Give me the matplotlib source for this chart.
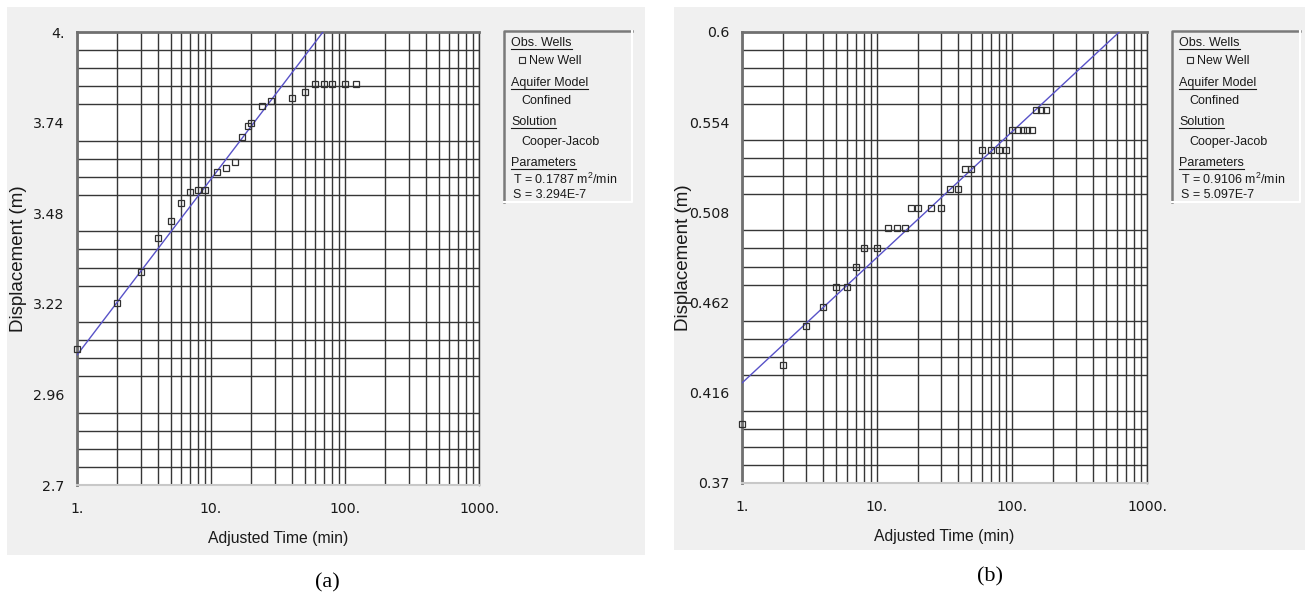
import matplotlib.pyplot as plt
from matplotlib.lines import Line2D
from matplotlib.patches import Rectangle
from matplotlib.ticker import FixedLocator, LogLocator, NullFormatter

plt.rcParams['font.family'] = ['Liberation Sans', 'DejaVu Sans']
plt.rcParams['mathtext.fontset'] = 'custom'
plt.rcParams['mathtext.rm'] = 'Liberation Sans'
plt.rcParams['mathtext.it'] = 'Liberation Sans'

# observed drawdown, panel (a)
time_a = [1, 2, 3, 4, 5, 6, 7, 8, 9, 11, 13, 15, 17, 19, 20, 24, 28,
          40, 50, 60, 70, 80, 100, 120]
disp_a = [3.089, 3.221, 3.312, 3.410, 3.458, 3.508, 3.540, 3.548, 3.548,
          3.599, 3.609, 3.628, 3.700, 3.730, 3.738, 3.788, 3.802,
          3.810, 3.829, 3.850, 3.850, 3.850, 3.850, 3.850]
fit_t_a = [1, 68.5]
fit_s_a = [3.073, 4.0]
yticks_a = [2.7, 2.96, 3.22, 3.48, 3.74, 4.0]
ylabels_a = ['2.7', '2.96', '3.22', '3.48', '3.74', '4.']
params_a = ['T = 0.1787 m$^2$/min', 'S = 3.294E-7']

# observed drawdown, panel (b)
time_b = [1, 2, 3, 4, 5, 6, 7, 8, 10, 12, 14, 16, 18, 20, 25, 30, 35, 40,
          45, 50, 60, 70, 80, 90, 100, 110, 120, 130, 140, 150, 165, 180]
disp_b = [0.40, 0.43, 0.45, 0.46, 0.47, 0.47, 0.48, 0.49, 0.49, 0.50, 0.50,
          0.50, 0.51, 0.51, 0.51, 0.51, 0.52, 0.52, 0.53, 0.53, 0.54, 0.54,
          0.54, 0.54, 0.55, 0.55, 0.55, 0.55, 0.55, 0.56, 0.56, 0.56]
fit_t_b = [1, 623]
fit_s_b = [0.421, 0.6]
yticks_b = [0.37, 0.416, 0.462, 0.508, 0.554, 0.6]
ylabels_b = ['0.37', '0.416', '0.462', '0.508', '0.554', '0.6']
params_b = ['T = 0.9106 m$^2$/min', 'S = 5.097E-7']

xticks = [1, 10, 100, 1000]
xlabels = ['1.', '10.', '100.', '1000.']

W, H = 1306, 602
fig = plt.figure(figsize=(W / 100, H / 100), dpi=100)
fig.patch.set_facecolor('white')

TICK_FONT = dict(family='DejaVu Sans', size=10.2, color='#1a1a1a')


def fx(px):
    return px / W


def fy(py):
    return 1 - py / H


def panel_bg(x0, y0, x1, y1):
    fig.patches.append(Rectangle((fx(x0), fy(y1)), (x1 - x0) / W, (y1 - y0) / H,
                                 transform=fig.transFigure, facecolor='#f0f0f0',
                                 edgecolor='none', zorder=-10))


def fig_line(xs, ys, **kw):
    fig.add_artist(Line2D([fx(x) for x in xs], [fy(y) for y in ys],
                          transform=fig.transFigure, **kw))


def draw_panel(rect, t, s, fit_t, fit_s, yticks, ylabels):
    x0, y0, x1, y1 = rect
    ax = fig.add_axes([fx(x0), fy(y1), (x1 - x0) / W, (y1 - y0) / H])
    ax.set_facecolor('white')
    ax.set_xscale('log')
    ax.set_xlim(1, 1000)
    ax.set_ylim(yticks[0], yticks[-1])

    ax.xaxis.set_major_locator(FixedLocator(xticks))
    ax.set_xticklabels(xlabels, **TICK_FONT)
    ax.xaxis.set_minor_locator(LogLocator(base=10, subs=range(2, 10)))
    ax.xaxis.set_minor_formatter(NullFormatter())

    # five grid divisions between labelled displacement values
    step = (yticks[1] - yticks[0]) / 5
    ax.yaxis.set_major_locator(FixedLocator(yticks))
    ax.set_yticklabels(ylabels, **TICK_FONT)
    ax.yaxis.set_minor_locator(FixedLocator([yticks[0] + i * step for i in range(26)]))

    ax.set_axisbelow(True)
    ax.xaxis.grid(True, which='both', color='#363636', lw=1.0)
    ax.yaxis.grid(True, which='minor', color='#363636', lw=1.0)
    ax.yaxis.grid(False, which='major')
    ax.tick_params(which='both', length=0)
    ax.tick_params(axis='x', pad=12)
    ax.tick_params(axis='y', pad=9)
    for side in ('left', 'top'):
        ax.spines[side].set_color('#707070')
        ax.spines[side].set_linewidth(2.0)
    ax.spines['right'].set_color('#363636')
    ax.spines['right'].set_linewidth(1.0)
    ax.spines['bottom'].set_color('#c8c8c8')
    ax.spines['bottom'].set_linewidth(1.5)

    ax.plot(fit_t, fit_s, color='#5852c8', lw=1.0, zorder=3)
    ax.plot(t, s, ls='none', marker='s', ms=5, mfc='none', mec='#303030',
            mew=0.9, zorder=4, clip_on=False)
    ax.set_xlabel('Adjusted Time (min)', fontsize=11.3, labelpad=11, color='#1a1a1a')
    ax.set_ylabel('Displacement (m)', fontsize=13.5, color='#1a1a1a')
    ax.yaxis.set_label_coords(-50 / (x1 - x0), 0.5)
    return ax


def draw_legend(bx0, by0, bx1, by1, params):
    fig.patches.append(Rectangle((fx(bx0), fy(by1)), (bx1 - bx0) / W, (by1 - by0) / H,
                                 transform=fig.transFigure, facecolor='#f0f0f0',
                                 edgecolor='none', zorder=1))
    fig_line([bx0, bx0, bx1], [by1, by0, by0], color='#7a7a7a', lw=1.8)
    fig_line([bx0, bx1, bx1], [by1, by1, by0], color='#ffffff', lw=1.5)

    rows = [
        ('Obs. Wells', 7, 46, True),
        ('New Well', 25, 63.5, False),
        ('Aquifer Model', 7, 86, True),
        ('Confined', 17, 103.5, False),
        ('Solution', 7, 125, True),
        ('Cooper-Jacob', 17, 144.5, False),
        ('Parameters', 7, 166, True),
        (params[0], 9, 184.5, False),
        (params[1], 9, 197.5, False),
    ]
    renderer = fig.canvas.get_renderer()
    for label, dx, base, underline in rows:
        y = by0 + base - 31
        txt = fig.text(fx(bx0 + dx), fy(y), label, fontsize=9,
                       va='baseline', ha='left', color='#1a1a1a', zorder=2)
        if underline:
            bb = txt.get_window_extent(renderer)
            fig_line([bb.x0, bb.x1], [y + 2.5, y + 2.5], color='#1a1a1a', lw=0.8)
    fig.add_artist(Line2D([fx(bx0 + 18)], [fy(by0 + 59.5 - 31)], marker='s', ms=4,
                          mfc='none', mec='#303030', mew=0.8, ls='none',
                          transform=fig.transFigure))


panel_bg(7, 7, 645, 555)
panel_bg(674, 7, 1305, 550)

draw_panel((77, 32, 479, 485), time_a, disp_a, fit_t_a, fit_s_a, yticks_a, ylabels_a)
draw_panel((742, 32, 1147, 483), time_b, disp_b, fit_t_b, fit_s_b, yticks_b, ylabels_b)

draw_legend(504, 31, 632, 202, params_a)
draw_legend(1172, 31, 1300, 202, params_b)

fig.text(fx(327), fy(583), '(a)', fontsize=16, family='Liberation Serif',
         ha='center', va='center')
fig.text(fx(990), fy(577), '(b)', fontsize=16, family='Liberation Serif',
         ha='center', va='center')

fig.savefig('out.png', dpi=100)
